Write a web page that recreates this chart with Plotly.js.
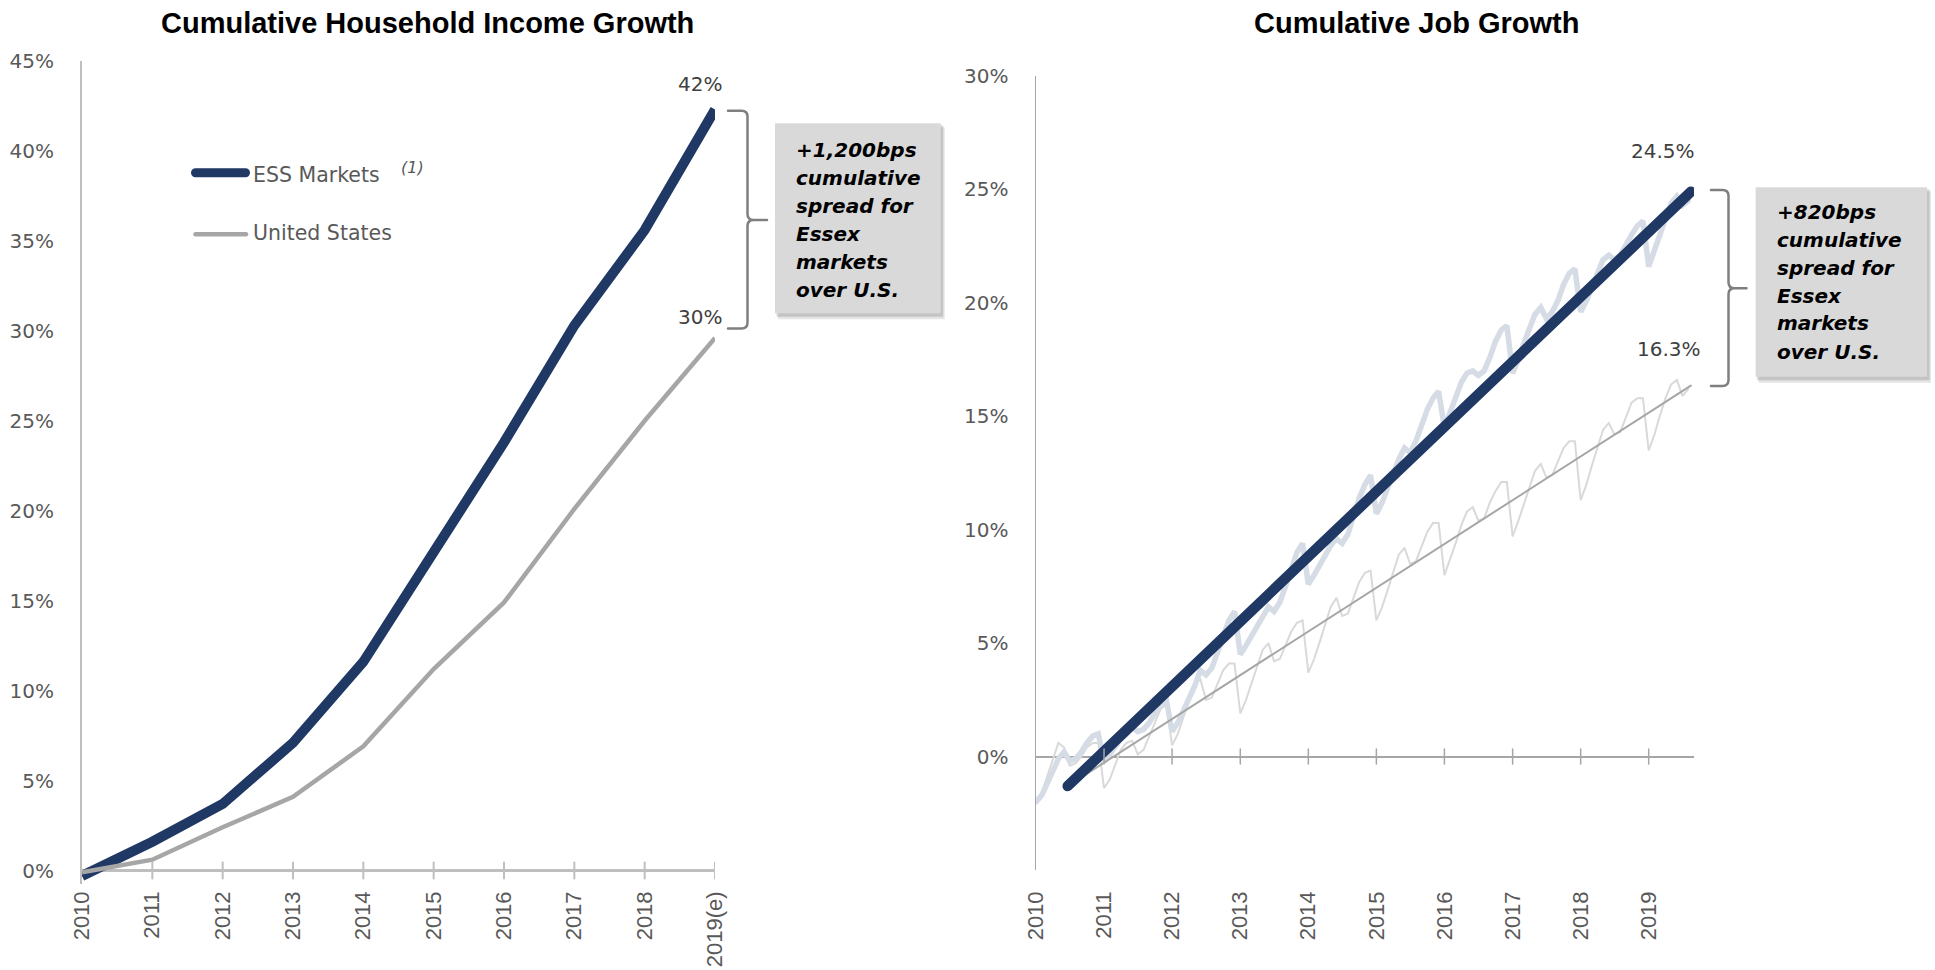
<!DOCTYPE html>
<html><head><meta charset="utf-8">
<script src="https://cdn.plot.ly/plotly-3.0.1.min.js"></script>
<style>
html,body{margin:0;padding:0;background:#fff;overflow:hidden}
#chart{width:1935px;height:970px}
#chart .x2y2 .js-line{stroke-linecap:round}
#chart .shapelayer path{stroke-linecap:round}
</style>
</head><body><div id="chart"></div>
<script>
// ---------- data ----------
const incomeYears = ['2010','2011','2012','2013','2014','2015','2016','2017','2018','2019(e)'];
const essIncome = [-0.3, 1.6, 3.7, 7.1, 11.6, 17.6, 23.8, 30.3, 35.6, 42.3];
const usIncome  = [-0.1, 0.6, 2.4, 4.1, 6.9, 11.2, 14.9, 20.1, 25.0, 29.6];
const incomeEndLabels = ['42%', '30%'];
const incomeTicks = [0, 5, 10, 15, 20, 25, 30, 35, 40, 45];

const jobYears = [2010,2011,2012,2013,2014,2015,2016,2017,2018,2019];
const jobTicks = [0, 5, 10, 15, 20, 25, 30];
// monthly cumulative job growth, Jan 2010 .. Aug 2019 (%)
const essJobs = [
  -2.0,-1.7,-1.2,-0.6,-0.1,0.2,-0.2,-0.1,0.2,0.6,0.9,1.0,
  -0.2,0.1,0.4,0.8,1.0,1.3,1.1,1.2,1.5,1.9,2.3,2.5,
  1.1,1.5,2.0,2.6,3.1,3.8,3.6,3.9,4.6,5.4,6.0,6.4,
  4.5,4.9,5.3,5.8,6.2,6.6,6.4,6.8,7.5,8.3,9.0,9.4,
  7.6,8.0,8.4,8.9,9.3,9.6,9.4,9.8,10.6,11.4,12.0,12.4,
  10.7,11.2,11.8,12.5,13.1,13.6,13.4,13.9,14.6,15.3,15.8,16.1,
  14.5,15.2,15.8,16.5,16.9,17.0,16.8,17.0,17.6,18.3,18.8,19.0,
  16.9,17.5,18.2,18.9,19.5,19.8,19.3,19.6,20.1,20.8,21.3,21.5,
  19.6,20.1,20.7,21.3,21.9,22.1,21.9,22.1,22.6,23.0,23.4,23.6,
  21.6,22.3,23.0,23.8,24.4,24.7,24.3,24.5
];
const usJobs = [
  -1.9,-1.6,-0.9,-0.1,0.6,0.4,-0.4,-0.3,0.0,0.4,0.6,0.6,
  -1.4,-1.0,-0.4,0.3,0.6,0.7,0.1,0.3,0.9,1.5,2.1,2.3,
  0.5,1.0,1.7,2.5,3.2,3.4,2.5,2.6,3.2,3.8,4.1,4.1,
  1.9,2.5,3.2,4.0,4.7,5.0,4.2,4.3,4.9,5.5,5.9,6.0,
  3.7,4.3,5.0,5.8,6.6,7.0,6.2,6.3,7.0,7.7,8.1,8.2,
  6.0,6.6,7.3,8.1,8.9,9.2,8.5,8.6,9.3,9.9,10.3,10.3,
  8.0,8.7,9.4,10.2,10.8,11.0,10.4,10.5,11.2,11.7,12.1,12.1,
  9.7,10.4,11.1,11.9,12.6,12.9,12.3,12.4,13.0,13.6,13.9,13.9,
  11.3,12.0,12.8,13.6,14.4,14.7,14.2,14.3,15.0,15.6,15.8,15.8,
  13.5,14.2,15.0,15.8,16.4,16.6,15.9,16.2
];
const trendDates = ['2010-06-20', '2019-08-15'];
const essTrend = [-1.3, 24.9];
const usTrend  = [-1.3, 16.35];
const jobEndLabels = ['24.5%', '16.3%'];

const spreadLeft  = ['+1,200bps','cumulative','spread for','Essex','markets','over U.S.'];
const spreadRight = ['+820bps','cumulative','spread for','Essex','markets','over U.S.'];
const seriesNames = ['ESS Markets', 'United States'];
const titles = ['Cumulative Household Income Growth', 'Cumulative Job Growth'];

// ---------- helpers ----------
const W = 1935, H = 970;
const px = x => x / W;
const py = y => 1 - y / H;
const NAVY = '#1f3864', GREY = '#a6a6a6', LIGHTBLUE = '#d6dce5', LIGHTGREY = '#d9d9d9';
const TXT = '#595959';
const calib = 'DejaVu Sans';
const arial = 'Liberation Sans, Arial, sans-serif';
const pct = v => v + '%';

const incomeIdx = incomeYears.map((_, i) => i);
const jobDates = essJobs.map((_, i) => {
  const y = jobYears[0] + Math.floor(i / 12);
  const m = (i % 12) + 1;
  return y + '-' + String(m).padStart(2, '0') + '-01';
});
const yearTickDates = jobYears.map(y => y + '-01-01');

// ---------- traces ----------
const traces = [
  {x: incomeIdx, y: essIncome, xaxis: 'x', yaxis: 'y', mode: 'lines', name: seriesNames[0],
   line: {color: NAVY, width: 10}, hoverinfo: 'skip'},
  {x: incomeIdx, y: usIncome, xaxis: 'x', yaxis: 'y', mode: 'lines', name: seriesNames[1],
   line: {color: GREY, width: 4.5}, hoverinfo: 'skip'},
  {x: jobDates, y: usJobs, xaxis: 'x2', yaxis: 'y2', mode: 'lines', name: seriesNames[1],
   line: {color: LIGHTGREY, width: 2}, hoverinfo: 'skip'},
  {x: jobDates, y: essJobs, xaxis: 'x2', yaxis: 'y2', mode: 'lines', name: seriesNames[0],
   line: {color: LIGHTBLUE, width: 5.5}, hoverinfo: 'skip'},
  {x: trendDates, y: usTrend, xaxis: 'x2', yaxis: 'y2', mode: 'lines', name: seriesNames[1] + ' trend',
   line: {color: GREY, width: 2}, hoverinfo: 'skip'},
  {x: trendDates, y: essTrend, xaxis: 'x2', yaxis: 'y2', mode: 'lines', name: seriesNames[0] + ' trend',
   line: {color: NAVY, width: 10.5}, hoverinfo: 'skip'}
];

// ---------- shapes ----------
const shapes = [];
// tick marks crossing the zero line
incomeIdx.slice(1).forEach(i => shapes.push({type: 'line', xref: 'x', yref: 'y', x0: i, x1: i,
  ysizemode: 'pixel', yanchor: 0, y0: -8, y1: 8, line: {color: '#bfbfbf', width: 2}}));
yearTickDates.slice(1).forEach(d => shapes.push({type: 'line', xref: 'x2', yref: 'y2', x0: d, x1: d,
  ysizemode: 'pixel', yanchor: 0, y0: -7.5, y1: 7.5, line: {color: GREY, width: 1.5}}));

// legend keys
shapes.push({type: 'line', xref: 'paper', yref: 'paper', x0: px(195.5), x1: px(245.5), y0: py(172.7), y1: py(172.7),
  line: {color: NAVY, width: 9}});
shapes.push({type: 'line', xref: 'paper', yref: 'paper', x0: px(195.5), x1: px(246), y0: py(234.3), y1: py(234.3),
  line: {color: GREY, width: 4.5}});

// brackets
function brace(x0, xv, xp, yT, yM, yB) {
  const r = 6;
  const P = (x, y) => px(x) + ',' + py(y);
  return 'M' + P(x0, yT) + ' L' + P(xv - r, yT) + ' Q' + P(xv, yT) + ' ' + P(xv, yT + r) +
    ' L' + P(xv, yM - r) + ' Q' + P(xv, yM) + ' ' + P(xv + r, yM) + ' L' + P(xp, yM) +
    ' M' + P(xv + r, yM) + ' Q' + P(xv, yM) + ' ' + P(xv, yM + r) +
    ' L' + P(xv, yB - r) + ' Q' + P(xv, yB) + ' ' + P(xv - r, yB) + ' L' + P(x0, yB);
}
shapes.push({type: 'path', xref: 'paper', yref: 'paper', path: brace(728, 747.5, 767, 110.7, 220, 328.5),
  line: {color: '#7f7f7f', width: 2.5}});
shapes.push({type: 'path', xref: 'paper', yref: 'paper', path: brace(1711, 1728.5, 1746.5, 190, 288.3, 386),
  line: {color: '#7f7f7f', width: 2.5}});

// callout boxes with soft shadow
function box(x0, y0, x1, y1) {
  shapes.push({type: 'rect', xref: 'paper', yref: 'paper', x0: px(x0 + 3), x1: px(x1 + 4), y0: py(y0 + 4), y1: py(y1 + 6),
    fillcolor: 'rgba(0,0,0,0.10)', line: {width: 0}});
  shapes.push({type: 'rect', xref: 'paper', yref: 'paper', x0: px(x0 + 1.5), x1: px(x1 + 2.5), y0: py(y0 + 2), y1: py(y1 + 3.5),
    fillcolor: 'rgba(0,0,0,0.14)', line: {width: 0}});
  shapes.push({type: 'rect', xref: 'paper', yref: 'paper', x0: px(x0), x1: px(x1), y0: py(y0), y1: py(y1),
    fillcolor: '#d9d9d9', line: {width: 0}});
}
box(775, 123.3, 940.7, 313.3);
box(1755.6, 187.3, 1927, 376.7);

// ---------- annotations ----------
const ann = [];
ann.push({text: titles[0], xref: 'paper', yref: 'paper', x: px(427), y: py(23), xanchor: 'center', yanchor: 'middle',
  showarrow: false, font: {family: arial, size: 29, color: '#000', weight: 'bold'}});
ann.push({text: titles[1], xref: 'paper', yref: 'paper', x: px(1416), y: py(23), xanchor: 'center', yanchor: 'middle',
  showarrow: false, font: {family: arial, size: 29, color: '#000', weight: 'bold'}});

// legend text
ann.push({text: seriesNames[0], xref: 'paper', yref: 'paper', x: px(251), y: py(175), xanchor: 'left', yanchor: 'middle',
  showarrow: false, font: {family: calib, size: 20.5, color: TXT}});
ann.push({text: '(1)', xref: 'paper', yref: 'paper', x: px(412), y: py(167), xanchor: 'center', yanchor: 'middle',
  showarrow: false, font: {family: calib, size: 16, color: TXT, style: 'italic'}});
ann.push({text: seriesNames[1], xref: 'paper', yref: 'paper', x: px(251), y: py(233), xanchor: 'left', yanchor: 'middle',
  showarrow: false, font: {family: calib, size: 20.5, color: TXT}});

// end labels
const last = a => a[a.length - 1];
ann.push({text: incomeEndLabels[0], xref: 'x', yref: 'y', x: last(incomeIdx), y: last(essIncome), xshift: -15, yshift: 26,
  showarrow: false, font: {family: calib, size: 20, color: '#404040'}});
ann.push({text: incomeEndLabels[1], xref: 'x', yref: 'y', x: last(incomeIdx), y: last(usIncome), xshift: -15, yshift: 21,
  showarrow: false, font: {family: calib, size: 20, color: '#404040'}});
ann.push({text: jobEndLabels[0], xref: 'x2', yref: 'y2', x: last(jobDates), y: last(essJobs), xshift: -25, yshift: 50,
  showarrow: false, font: {family: calib, size: 20, color: '#404040'}});
ann.push({text: jobEndLabels[1], xref: 'x2', yref: 'y2', x: last(jobDates), y: last(usJobs), xshift: -19, yshift: 40,
  showarrow: false, font: {family: calib, size: 20, color: '#404040'}});

// callout text
function calloutText(lines, x, yFirst) {
  lines.forEach((t, i) => ann.push({text: t, xref: 'paper', yref: 'paper', x: px(x), y: py(yFirst + i * 28),
    xanchor: 'left', yanchor: 'middle', showarrow: false,
    font: {family: calib, size: 20, color: '#000', weight: 'bold', style: 'italic'}}));
}
calloutText(spreadLeft, 794, 150);
calloutText(spreadRight, 1775, 211.5);

// ---------- layout ----------
const layout = {
  width: W, height: H,
  margin: {l: 0, r: 0, t: 0, b: 0},
  paper_bgcolor: '#fff', plot_bgcolor: 'rgba(0,0,0,0)',
  showlegend: false,
  xaxis: {domain: [px(82), px(715)], range: [0, 9], anchor: 'y',
    tickmode: 'array', tickvals: incomeIdx, ticktext: incomeYears, tickangle: -90, ticks: '',
    showgrid: false, zeroline: false, showline: false, ticklabelstandoff: 2,
    tickfont: {family: arial, size: 22, color: TXT}, automargin: false},
  yaxis: {domain: [py(884), py(61)], range: [-0.75, 45], anchor: 'x',
    tickmode: 'array', tickvals: incomeTicks, ticktext: incomeTicks.map(pct), ticks: '',
    showgrid: false, showline: true, linecolor: '#bfbfbf', linewidth: 2,
    zeroline: true, zerolinecolor: '#bfbfbf', zerolinewidth: 2.5, ticklabelstandoff: 22,
    tickfont: {family: calib, size: 20, color: TXT}, automargin: false},
  xaxis2: {domain: [px(1036), px(1694)], type: 'date', range: ['2010-01-01', '2019-09-01'], anchor: 'y2',
    tickmode: 'array', tickvals: yearTickDates, ticktext: jobYears.map(String), tickangle: -90, ticks: '',
    showgrid: false, zeroline: false, showline: false, ticklabelstandoff: 16,
    tickfont: {family: arial, size: 22, color: TXT}, automargin: false},
  yaxis2: {domain: [py(870), py(76)], range: [-5, 30], anchor: 'x2',
    tickmode: 'array', tickvals: jobTicks, ticktext: jobTicks.map(pct), ticks: '',
    showgrid: false, showline: true, linecolor: GREY, linewidth: 1.5,
    zeroline: true, zerolinecolor: GREY, zerolinewidth: 2, ticklabelstandoff: 22,
    tickfont: {family: calib, size: 20, color: TXT}, automargin: false},
  shapes: shapes,
  annotations: ann
};

Plotly.newPlot('chart', traces, layout, {staticPlot: true, displayModeBar: false});
</script>
</body></html>
